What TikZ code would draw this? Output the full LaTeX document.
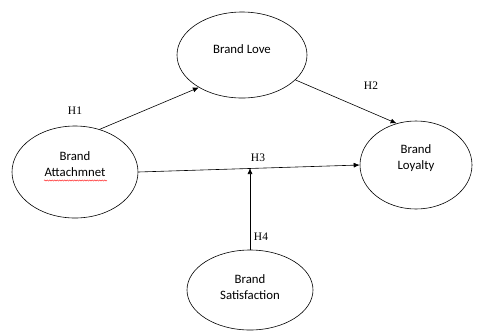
\documentclass[tikz,border=0pt]{standalone}
\usepackage{fontspec}
\setmainfont{Liberation Serif}
\newfontfamily\bodyfont{Carlito}
\usetikzlibrary{arrows.meta,decorations.pathmorphing,shapes.geometric}
\begin{document}
\begin{tikzpicture}[x=1pt,y=-1pt,
  construct/.style={draw, ellipse, line width=0.6pt, font=\bodyfont\fontsize{12.8}{16}\selectfont, align=center, inner sep=0pt},
  hyp/.style={font=\fontsize{11.5}{13}\selectfont},
  link/.style={draw, line width=0.6pt, -{Latex[length=6pt,width=5pt]}}]
\useasboundingbox (0,0) rectangle (477,333);
\fill[white] (0,0) rectangle (477,333);
\node[construct, minimum width=130pt, minimum height=86pt, text depth=12pt] (love) at (242,55) {Brand Love};
\node[construct, minimum width=126pt, minimum height=92pt, text depth=15pt] (attach) at (75,172) {Brand\\Attachmnet};
\node[construct, minimum width=112pt, minimum height=88pt, text depth=16pt] (loyal) at (416,165) {Brand\\Loyalty};
\node[construct, minimum width=126pt, minimum height=80pt, text depth=5pt] (satis) at (250,290) {Brand\\Satisfaction};
\draw[link] (attach.60) -- (love.217);
\draw[link] (love.-25) -- (loyal.115);
\draw[link] (attach.east) -- (loyal.west);
\coordinate (h3end) at (250,168);
\draw[link] (satis.north) -- (h3end);
\node[hyp] (h1) at (75,111) {H1};
\node[hyp] (h2) at (371,86) {H2};
\node[hyp] (h3) at (258,158) {H3};
\node[hyp] (h4) at (261,237) {H4};
\draw[red, line width=0.4pt, decorate, decoration={snake, amplitude=0.6pt, segment length=2.5pt}] (44,180.5) -- (107,180.5);
\end{tikzpicture}
\end{document}
